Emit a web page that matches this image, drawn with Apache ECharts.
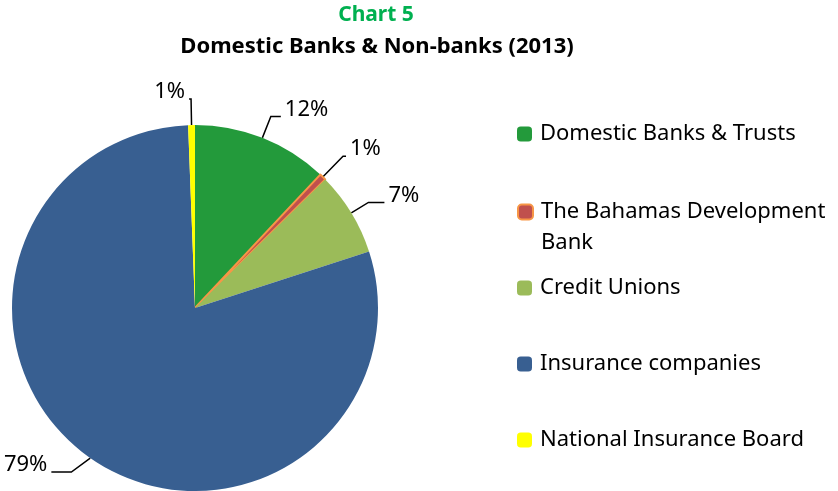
<!DOCTYPE html>
<html>
<head>
<meta charset="utf-8">
<script src="https://cdn.jsdelivr.net/npm/echarts@6/dist/echarts.min.js"></script>
<style>
  html, body { margin: 0; padding: 0; background: #fff; }
  #chart { width: 838px; height: 491px; }
</style>
</head>
<body>
<div id="chart"></div>
<script>
// Shares of domestic banks and non-bank institutions, 2013 (percent)
const categories = [
  'Domestic Banks & Trusts',
  'The Bahamas Development\nBank',
  'Credit Unions',
  'Insurance companies',
  'National Insurance Board'
];
const shares = [12.0, 0.6, 7.4, 79.4, 0.6];
const sliceColors = ['#239A3B', '#C0504D', '#9BBB59', '#385F91', '#FFFF00'];

const FONT = '"Noto Sans", "Open Sans", sans-serif';

// Leader line lengths per slice
const leaderLen = [23, 29, 20, 33, 26];
const leaderLen2 = [10, 3, 16, 20, 2];

const data = categories.map((name, i) => {
  const item = {
    name,
    value: shares[i],
    itemStyle: { color: sliceColors[i] },
    labelLine: { length: leaderLen[i], length2: leaderLen2[i] }
  };
  if (i === 1) {
    item.itemStyle.borderColor = '#F79646';
    item.itemStyle.borderWidth = 2;
  }
  return item;
});

// One legend block per entry so each row sits at its own height
const LH = 31;
const legendCenters = [134, 212, 288, 364, 440];
const legends = categories.map((name, i) => {
  const multi = name.indexOf('\n') >= 0;
  return {
    orient: 'vertical',
    left: 512,
    top: legendCenters[i] - (multi ? 1.5 * LH : LH / 2) - 5,
    itemWidth: 15,
    itemHeight: 15,
    selectedMode: false,
    data: [name],
    // a blank lead line keeps the first text line level with the swatch
    formatter: n => (n.indexOf('\n') >= 0 ? ' \n' + n : n),
    textStyle: {
      fontFamily: FONT,
      fontSize: 22,
      color: '#000',
      lineHeight: LH,
      padding: [0, 0, 0, 3]
    }
  };
});

const chart = echarts.init(document.getElementById('chart'));
chart.setOption({
  animation: false,
  backgroundColor: '#fff',
  title: [
    {
      text: 'Chart 5',
      left: 371, top: 0, textAlign: 'center',
      textStyle: { fontFamily: FONT, fontWeight: 'bold', fontSize: 21, color: '#00B050' }
    },
    {
      text: 'Domestic Banks & Non-banks (2013)',
      left: 372, top: 31, textAlign: 'center',
      textStyle: { fontFamily: FONT, fontWeight: 'bold', fontSize: 22, color: '#000' }
    }
  ],
  legend: legends,
  series: [{
    type: 'pie',
    center: [195, 308],
    radius: 183,
    startAngle: 90,
    clockwise: true,
    data,
    label: {
      show: true,
      position: 'outside',
      // trailing blank line lifts the percentage just above its leader line
      formatter: p => Math.round(p.percent) + '%\n ',
      fontFamily: FONT,
      fontSize: 22,
      lineHeight: 14,
      color: '#000',
      overflow: 'none',
      edgeDistance: 0,
      distanceToLabelLine: 4
    },
    labelLine: { show: true, lineStyle: { color: '#000', width: 1.5 } },
    emphasis: { disabled: true }
  }]
});
</script>
</body>
</html>
